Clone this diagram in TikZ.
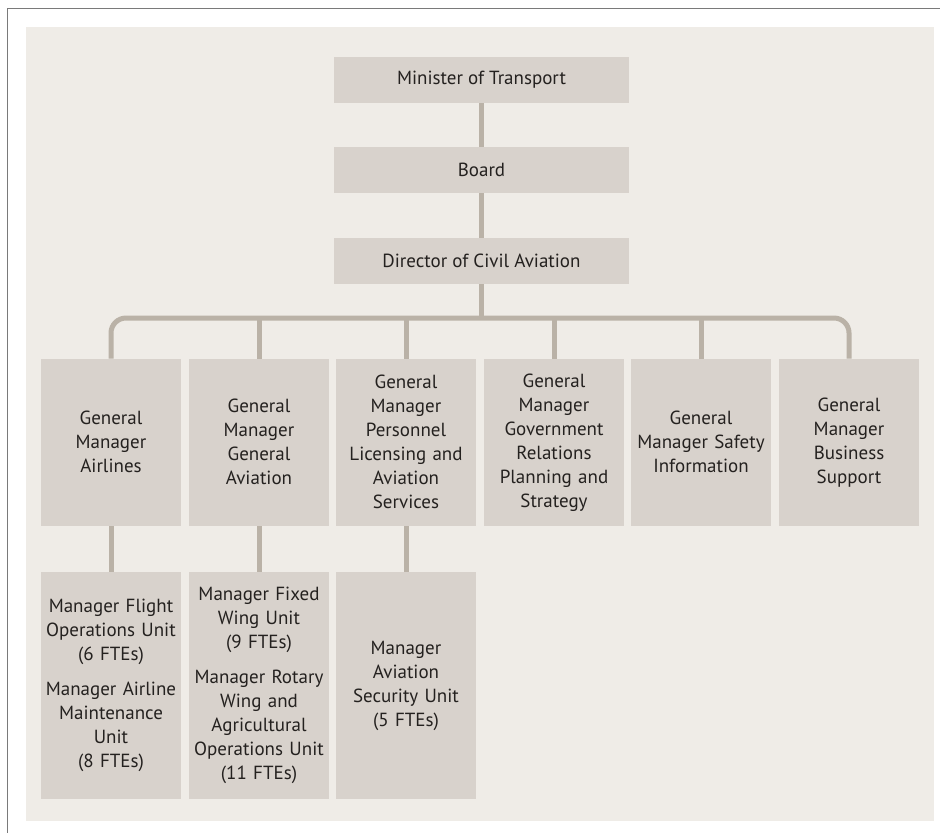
\documentclass[tikz,border=0pt]{standalone}
\usepackage{fontspec}
\setmainfont{PT Sans}
\definecolor{panelBeige}{RGB}{239,236,231}
\definecolor{boxTaupe}{RGB}{216,210,204}
\definecolor{linkTaupe}{RGB}{186,178,167}
\definecolor{textDark}{RGB}{36,33,31}
\definecolor{frameGray}{RGB}{122,122,122}
\usetikzlibrary{positioning,calc}

\begin{document}
\begin{tikzpicture}[x=0.5pt,y=-0.5pt,
    orgbox/.style={fill=boxTaupe,inner sep=0pt,align=center,text=textDark,
      font=\fontsize{9.5}{12}\selectfont},
    topbox/.style={orgbox,minimum width=147.5pt,minimum height=22.85pt},
    gmbox/.style={orgbox,minimum width=70pt,minimum height=83.3pt,text width=70pt},
    unitbox/.style={orgbox,minimum width=70pt,minimum height=113.3pt,text width=70pt},
    link/.style={draw=linkTaupe,line width=2.5pt}]
        \useasboundingbox (0,0) rectangle (940,832);
        % Frame and panel
        \draw[frameGray,line width=0.7pt] (7.5,840) -- (7.5,8.5) -- (945,8.5);
        \fill[panelBeige] (26,27) rectangle (934,820.5);
        % Top of the chain
        \node[topbox] (minister) at (481.5,80) {Minister of Transport};
        \node[topbox] (board) at (481.5,170) {Board};
        \node[topbox] (director) at (481.5,261) {Director of Civil Aviation};
        % General managers
        \node[gmbox] (gmair) at (111,442.3) {General\\Manager\\Airlines};
        \node[gmbox] (gmgen) at (259,442.3) {General\\Manager\\General\\Aviation};
        \node[gmbox] (gmpers) at (406,442.3) {General\\Manager\\Personnel\\Licensing and\\Aviation\\Services};
        \node[gmbox] (gmgov) at (554,442.3) {General\\Manager\\Government\\Relations\\Planning and\\Strategy};
        \node[gmbox] (gmsafe) at (701,442.3) {General\\Manager Safety\\Information};
        \node[gmbox] (gmbiz) at (849,442.3) {General\\Manager\\Business\\Support};
        % Units
        \node[unitbox] (unitair) at (111,685.5) {Manager Flight\\Operations Unit\\(6 FTEs)\\[5.5pt]Manager Airline\\Maintenance\\Unit\\(8 FTEs)};
        \node[unitbox] (unitgen) at (259,685.5) {Manager Fixed\\Wing Unit\\(9 FTEs)\\[5.5pt]Manager Rotary\\Wing and\\Agricultural\\Operations Unit\\(11 FTEs)};
        \node[unitbox] (unitsec) at (406,685.5) {Manager\\Aviation\\Security Unit\\(5 FTEs)};
        % Links
        \coordinate (bus) at (481.5,318);
        \draw[link] (minister) -- (board);
        \draw[link] (board) -- (director);
        \draw[link] (director.south) -- (director.south |- bus);
        \draw[link,rounded corners=7.5pt] (gmair.north) -- (gmair.north |- bus) -- (gmbiz.north |- bus) -- (gmbiz.north);
        \foreach \n in {gmgen,gmpers,gmgov,gmsafe}
          \draw[link] (\n.north) -- (\n.north |- bus);
        \draw[link] (gmair) -- (unitair);
        \draw[link] (gmgen) -- (unitgen);
        \draw[link] (gmpers) -- (unitsec);
      \end{tikzpicture}
\end{document}
